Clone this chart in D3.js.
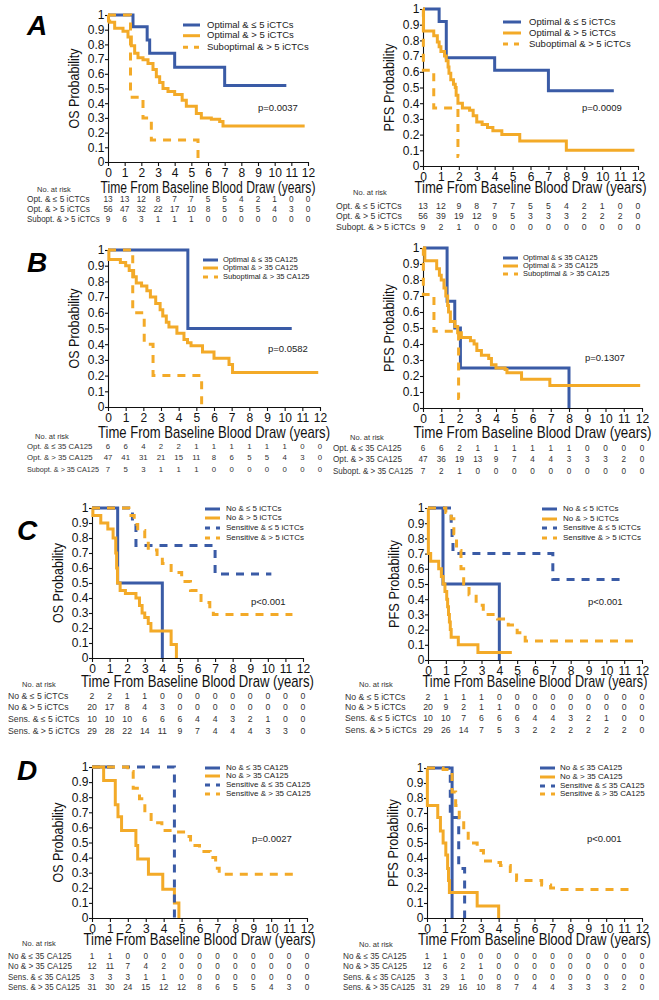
<!DOCTYPE html>
<html><head><meta charset="utf-8">
<script src="https://cdn.jsdelivr.net/npm/d3@7"></script>
<style>body{margin:0;background:#fff}svg{display:block}text{font-family:"Liberation Sans",Arial,Helvetica,sans-serif}</style>
</head><body><svg id="c" width="659" height="1000"></svg>
<script>
// ---------- DATA ----------
const xTickValues = [0,1,2,3,4,5,6,7,8,9,10,11,12];
const xTickLabels = ["0","1","2","3","4","5","6","7","8","9","10","11","12"];
const yTickValues = [0,0.1,0.2,0.3,0.4,0.5,0.6,0.7,0.8,0.9,1];
const yTickLabels = ["0","0.1","0.2","0.3","0.4","0.5","0.6","0.7","0.8","0.9","1"];

// Kaplan-Meier step points [years, survival probability]
const aOS_optLe5 = [[0,1],[1.5,0.92],[2.35,0.83],[2.5,0.74],[4.0,0.645],[7.0,0.52],[10.7,0.52]];
const aOS_optGt5 = [[0,1],[0.03,0.96],[0.1,0.95],[0.4,0.91],[0.9,0.89],[1.2,0.85],[1.4,0.79],[1.6,0.74],[1.8,0.71],[2.1,0.695],[2.4,0.67],[2.7,0.63],[2.9,0.58],[3.1,0.54],[3.3,0.50],[3.6,0.48],[4.0,0.46],[4.45,0.42],[4.7,0.38],[5.3,0.33],[5.6,0.30],[6.2,0.29],[6.7,0.275],[6.9,0.245],[11.8,0.245]];
const aOS_subGt5 = [[0,1],[1.35,0.44],[2.1,0.30],[2.6,0.15],[5.4,0],[5.4,0]];

const aPFS_optLe5 = [[0,1],[0.9,0.92],[1.3,0.69],[4.0,0.61],[7.0,0.48],[10.65,0.48]];
const aPFS_optGt5 = [[0,1],[0.03,0.86],[0.6,0.83],[0.8,0.79],[0.9,0.76],[1.0,0.73],[1.2,0.70],[1.3,0.67],[1.4,0.63],[1.45,0.59],[1.55,0.55],[1.7,0.52],[1.8,0.50],[1.85,0.45],[1.95,0.40],[2.2,0.37],[2.6,0.355],[2.8,0.32],[3.0,0.28],[3.3,0.265],[3.6,0.245],[3.9,0.225],[4.4,0.20],[5.4,0.16],[8.0,0.10],[11.8,0.10]];
const aPFS_subGt5 = [[0,1],[0.02,0.61],[0.6,0.37],[1.95,0.06],[2.0,0.06]];

const bOS_optLe35 = [[0,1],[4.52,0.5],[10.4,0.5]];
const bOS_optGt35 = [[0,1],[0.05,0.94],[0.7,0.92],[1.0,0.90],[1.2,0.87],[1.45,0.83],[1.6,0.79],[1.9,0.77],[2.2,0.74],[2.4,0.70],[2.7,0.66],[2.95,0.62],[3.1,0.58],[3.3,0.54],[3.45,0.51],[3.9,0.47],[4.3,0.43],[4.5,0.41],[4.7,0.39],[5.35,0.35],[6.0,0.31],[6.85,0.27],[7.05,0.22],[11.9,0.22]];
const bOS_subGt35 = [[0,1],[1.4,0.6],[2.05,0.4],[2.55,0.2],[5.3,0],[5.3,0]];

const bPFS_optLe35 = [[0,1],[1.32,0.667],[1.74,0.5],[2.05,0.25],[8.0,0],[8.0,0]];
const bPFS_optGt35 = [[0,1],[0.1,0.92],[0.75,0.87],[0.9,0.83],[1.0,0.80],[1.15,0.75],[1.25,0.70],[1.35,0.64],[1.4,0.60],[1.5,0.54],[1.75,0.51],[1.9,0.47],[2.1,0.44],[2.6,0.42],[2.8,0.40],[2.95,0.36],[3.2,0.33],[3.6,0.31],[3.75,0.27],[4.0,0.25],[4.5,0.24],[4.6,0.22],[5.4,0.18],[6.95,0.14],[11.9,0.14]];
const bPFS_subGt35 = [[0,1],[0.02,0.71],[0.6,0.48],[1.95,0.06],[2.0,0.06]];

const cOS_noLe5 = [[0,1],[1.46,0.5],[4.0,0],[4.0,0]];
const cOS_noGt5 = [[0,1],[0.05,0.95],[0.5,0.90],[0.9,0.86],[1.2,0.80],[1.35,0.70],[1.4,0.60],[1.45,0.50],[1.6,0.45],[1.9,0.43],[2.5,0.40],[2.7,0.35],[2.85,0.30],[3.0,0.27],[3.2,0.23],[3.35,0.18],[4.5,0.09],[4.8,0],[4.8,0]];
const cOS_senLe5 = [[0,1],[2.3,0.9],[2.5,0.75],[7.0,0.56],[10.2,0.56]];
const cOS_senGt5 = [[0,1],[2.1,0.95],[2.4,0.89],[2.6,0.85],[3.0,0.79],[3.2,0.72],[3.7,0.69],[4.0,0.63],[4.5,0.57],[5.1,0.51],[5.6,0.45],[6.2,0.37],[6.7,0.33],[6.9,0.29],[11.4,0.29]];

const cPFS_noLe5 = [[0,1],[0.84,0.5],[4.0,0],[4.0,0]];
const cPFS_noGt5 = [[0,1],[0.02,0.70],[0.15,0.65],[0.6,0.60],[0.75,0.55],[0.85,0.50],[0.95,0.45],[1.05,0.40],[1.1,0.35],[1.15,0.30],[1.2,0.25],[1.25,0.20],[1.3,0.15],[1.7,0.10],[2.8,0.05],[4.7,0.05]];
const cPFS_senLe5 = [[0,1],[1.3,0.90],[1.35,0.80],[1.4,0.70],[7.0,0.53],[10.8,0.53]];
const cPFS_senGt5 = [[0,1],[1.0,0.97],[1.3,0.93],[1.45,0.83],[1.6,0.72],[1.85,0.60],[2.0,0.50],[2.3,0.43],[2.7,0.36],[3.1,0.30],[3.9,0.27],[4.5,0.23],[5.0,0.18],[5.45,0.125],[11.8,0.125]];

const dOS_noLe35 = [[0,1],[1.2,1]];
const dOS_noGt35 = [[0,1],[0.65,0.91],[1.3,0.75],[1.45,0.67],[1.65,0.58],[2.45,0.48],[2.55,0.39],[3.15,0.29],[3.95,0.19],[4.6,0.10],[4.85,0],[4.85,0]];
const dOS_senLe35 = [[0,1],[4.6,0],[4.6,0]];
const dOS_senGt35 = [[0,1],[2.0,0.97],[2.3,0.86],[2.65,0.79],[2.95,0.70],[3.3,0.63],[3.9,0.58],[4.5,0.57],[5.25,0.54],[5.5,0.48],[6.0,0.44],[6.6,0.40],[6.9,0.33],[7.1,0.29],[11.35,0.29]];

const dPFS_noLe35 = [[0,1],[1.4,0],[1.4,0]];
const dPFS_noGt35 = [[0,1],[0.02,0.75],[0.6,0.67],[0.75,0.58],[0.9,0.50],[1.05,0.42],[1.15,0.33],[1.2,0.25],[1.25,0.17],[2.8,0.08],[4.0,0],[4.0,0]];
const dPFS_senLe35 = [[0,1],[1.3,0.67],[1.77,0.33],[2.1,0],[2.1,0]];
const dPFS_senGt35 = [[0,1],[0.9,0.99],[1.4,0.84],[1.6,0.75],[1.8,0.67],[2.05,0.58],[2.3,0.50],[2.8,0.45],[3.15,0.38],[3.8,0.37],[4.1,0.35],[4.65,0.31],[5.0,0.25],[6.4,0.22],[6.9,0.20],[7.4,0.19],[11.45,0.19]];

// Numbers at risk (years 0..12)
const riskA_OS = [[13,13,12,8,7,7,5,5,4,2,1,0,0],[56,47,32,22,17,10,8,5,5,5,4,3,0],[9,6,3,1,1,1,0,0,0,0,0,0,0]];
const riskA_PFS = [[13,12,9,8,7,7,5,5,4,2,1,0,0],[56,39,19,12,9,5,3,3,3,2,2,2,0],[9,2,1,0,0,0,0,0,0,0,0,0,0]];
const riskB_OS = [[6,6,4,2,2,1,1,1,1,1,1,0,0],[47,41,31,21,15,11,8,6,5,5,4,3,0],[7,5,3,1,1,1,0,0,0,0,0,0,0]];
const riskB_PFS = [[6,6,2,1,1,1,1,1,1,0,0,0,0],[47,36,19,13,9,7,4,4,3,3,3,2,0],[7,2,1,0,0,0,0,0,0,0,0,0,0]];
const riskC_OS = [[2,2,1,1,0,0,0,0,0,0,0,0,0],[20,17,8,4,3,0,0,0,0,0,0,0,0],[10,10,10,6,6,6,4,4,3,2,1,0,0],[29,28,22,14,11,9,7,4,4,4,3,3,0]];
const riskC_PFS = [[2,1,1,1,0,0,0,0,0,0,0,0,0],[20,9,2,1,1,0,0,0,0,0,0,0,0],[10,10,7,6,6,6,4,4,3,2,1,0,0],[29,26,14,7,5,3,2,2,2,2,2,2,0]];
const riskD_OS = [[1,1,0,0,0,0,0,0,0,0,0,0,0],[12,11,7,4,2,0,0,0,0,0,0,0,0],[3,3,3,1,1,0,0,0,0,0,0,0,0],[31,30,24,15,12,12,8,6,5,5,4,3,0]];
const riskD_PFS = [[1,1,0,0,0,0,0,0,0,0,0,0,0],[12,6,2,1,0,0,0,0,0,0,0,0,0],[3,3,1,0,0,0,0,0,0,0,0,0,0],[31,29,16,10,8,7,4,4,3,3,3,2,0]];

const legendA = ["Optimal & \u2264 5 iCTCs","Optimal & > 5 iCTCs","Suboptimal & > 5 iCTCs"];
const legendB = ["Optimal & \u2264 35 CA125","Optimal & > 35 CA125","Suboptimal & > 35 CA125"];
const legendC = ["No & \u2264 5 iCTCs","No & > 5 iCTCs","Sensitive & \u2264 5 iCTCs","Sensitive & > 5 iCTCs"];
const legendD = ["No & \u2264 35 CA125","No & > 35 CA125","Sensitive & \u2264 35 CA125","Sensitive & > 35 CA125"];
const rowsA = ["Opt. & \u2264 5 iCTCs","Opt. & > 5 iCTCs","Subopt. & > 5 iCTCs"];
const rowsB = ["Opt. & \u2264 35 CA125","Opt. & > 35 CA125","Subopt. & > 35 CA125"];
const rowsC = ["No & \u2264 5 iCTCs","No & > 5 iCTCs","Sens. & \u2264 5 iCTCs","Sens. & > 5 iCTCs"];
const rowsD = ["No & \u2264 35 CA125","No & > 35 CA125","Sens. & \u2264 35 CA125","Sens. & > 35 CA125"];
const pValues = ["p=0.0037","p=0.0009","p=0.0582","p=0.1307","p<0.001","p<0.001","p=0.0027","p<0.001"];

// ---------- STYLE / LAYOUT ----------
const BLUE = "#3a5ba6", ORANGE = "#f3aa28";
const st3 = [{c:BLUE,d:false},{c:ORANGE,d:false},{c:ORANGE,d:true}];
const st4 = [{c:BLUE,d:false},{c:ORANGE,d:false},{c:BLUE,d:true},{c:ORANGE,d:true}];

const panels = [
 {letter:"A",lx:27,ly:35,x0:108,x1:308,yT:15,yB:162,ylab:"OS Probability",xlY:193,xlW:215,
  series:[aOS_optLe5,aOS_optGt5,aOS_subGt5],st:st3,leg:legendA,lgX:183,lgL:17,lgT:207,lgY:[25,35.7,47.3],lgF:9.5,
  p:pValues[0],px:258,py:108,rows:rowsA,risk:riskA_OS,nrX:54,nrY:190,rlX:27,rlW:73,rlF:8.3,rY:[200,210,220]},
 {x0:423,x1:638,yT:9,yB:166,ylab:"PFS Probability",xlY:193,xlW:232,
  series:[aPFS_optLe5,aPFS_optGt5,aPFS_subGt5],st:st3,leg:legendA,lgX:503,lgL:18,lgT:529,lgY:[22,33,44],lgF:9.5,
  p:pValues[1],px:582,py:108,rows:rowsA,risk:riskA_PFS,nrX:370,nrY:193,rlX:336,rlW:80,rlF:8.7,rY:[207,217,228]},
 {letter:"B",lx:27,ly:272,x0:108,x1:320,yT:250,yB:407,ylab:"OS Probability",xlY:438,xlW:232,
  series:[bOS_optLe35,bOS_optGt35,bOS_subGt35],st:st3,leg:legendB,lgX:203,lgL:15,lgT:223,lgY:[260,268,277],lgF:7.5,
  p:pValues[2],px:268,py:349,rows:rowsB,risk:riskB_OS,nrX:52,nrY:437,rlX:27,rlW:72,rlF:7.8,rY:[447,458,470]},
 {x0:423,x1:642,yT:248,yB:408,ylab:"PFS Probability",xlY:438,xlW:238,
  series:[bPFS_optLe35,bPFS_optGt35,bPFS_subGt35],st:st3,leg:legendB,lgX:503,lgL:15,lgT:523,lgY:[258,266,274],lgF:7.5,
  p:pValues[3],px:585,py:358,rows:rowsB,risk:riskB_PFS,nrX:367,nrY:438,rlX:333,rlW:80,rlF:8.2,rY:[449,460,472]},
 {letter:"C",lx:17,ly:540,x0:92,x1:303,yT:508,yB:658,ylab:"OS Probability",xlY:687,xlW:233,
  series:[cOS_noLe5,cOS_noGt5,cOS_senLe5,cOS_senGt5],st:st4,leg:legendC,lgX:205,lgL:15,lgT:226,lgY:[509,518,528,538],lgF:8,
  p:pValues[4],px:251,py:602,rows:rowsC,risk:riskC_OS,nrX:39,nrY:685,rlX:8,rlW:72,rlF:8.7,rY:[697,708,720,732]},
 {x0:428,x1:642,yT:508,yB:660,ylab:"PFS Probability",xlY:687,xlW:225,
  series:[cPFS_noLe5,cPFS_noGt5,cPFS_senLe5,cPFS_senGt5],st:st4,leg:legendC,lgX:542,lgL:15,lgT:563,lgY:[509,519,528,538],lgF:8,
  p:pValues[5],px:588,py:602,rows:rowsC,risk:riskC_PFS,nrX:376,nrY:685,rlX:345,rlW:73,rlF:8.7,rY:[698,708,719,731]},
 {letter:"D",lx:17,ly:780,x0:92,x1:307,yT:767,yB:918,ylab:"OS Probability",xlY:945,xlW:232,
  series:[dOS_noLe35,dOS_noGt35,dOS_senLe35,dOS_senGt35],st:st4,leg:legendD,lgX:205,lgL:15,lgT:226,lgY:[768,776,785,794],lgF:8,
  p:pValues[6],px:252,py:839,rows:rowsD,risk:riskD_OS,nrX:39,nrY:944,rlX:8,rlW:72,rlF:8.2,rY:[957,967,978,988]},
 {x0:427,x1:642,yT:768,yB:918,ylab:"PFS Probability",xlY:945,xlW:233,
  series:[dPFS_noLe35,dPFS_noGt35,dPFS_senLe35,dPFS_senGt35],st:st4,leg:legendD,lgX:540,lgL:15,lgT:560,lgY:[768,777,786,794],lgF:8,
  p:pValues[7],px:587,py:839,rows:rowsD,risk:riskD_PFS,nrX:376,nrY:945,rlX:343,rlW:72,rlF:8.2,rY:[957,967,978,988]}
];

const svg = d3.select("#c");
svg.append("rect").attr("width",659).attr("height",1000).attr("fill","#fff");
const FONT = '"Liberation Sans",Arial,Helvetica,sans-serif';

// squeeze a text horizontally (along its direction) to a target width using a transform
function fitText(sel, tx, ty, rot, target, maxScale){
  const w = sel.node().getComputedTextLength();
  const s = Math.min(maxScale, target / w);
  sel.attr("transform", `translate(${tx},${ty})${rot?` rotate(${rot})`:""} scale(${s},1)`);
}

panels.forEach(p => {
  const x = d3.scaleLinear().domain([0,12]).range([p.x0,p.x1]);
  const y = d3.scaleLinear().domain([0,1]).range([p.yB,p.yT]);
  const g = svg.append("g");

  // axes
  const gx = g.append("g").attr("transform",`translate(0,${p.yB})`)
    .call(d3.axisBottom(x).tickValues(xTickValues).tickFormat((d,i)=>xTickLabels[i]).tickSize(4).tickPadding(2.5).tickSizeOuter(0));
  const gy = g.append("g").attr("transform",`translate(${p.x0},0)`)
    .call(d3.axisLeft(y).tickValues(yTickValues).tickFormat((d,i)=>yTickLabels[i]).tickSize(3).tickPadding(0.5).tickSizeOuter(0));
  [gx,gy].forEach(a=>{a.attr("font-size",12).attr("font-family",FONT);
    a.selectAll("path,line").attr("stroke","#111").attr("stroke-width",1.1);
    a.selectAll("text").attr("fill","#111");});

  // curves
  const line = d3.line().x(d=>x(d[0])).y(d=>y(d[1])).curve(d3.curveStepAfter);
  p.series.forEach((s,i)=>{
    g.append("path").attr("d",line(s)).attr("fill","none")
      .attr("stroke",p.st[i].c).attr("stroke-width",3)
      .attr("stroke-linejoin","miter")
      .attr("stroke-dasharray",p.st[i].d?"8,7":null);
  });

  // axis titles
  const yl = g.append("text").attr("text-anchor","middle").attr("dominant-baseline","middle")
    .attr("font-size",14).attr("fill","#111").text(p.ylab);
  fitText(yl, p.x0-33, (p.yT+p.yB)/2, -90, (p.ylab.startsWith("OS")?80:88), 1);
  const xl = g.append("text").attr("text-anchor","middle").attr("font-size",16).attr("fill","#111")
    .text("Time From Baseline Blood Draw (years)");
  fitText(xl, (p.x0+p.x1)/2, p.xlY, 0, p.xlW, 1);
  if(p.letter){
    g.append("text").attr("x",p.lx).attr("y",p.ly).attr("font-size",28).attr("font-weight","bold")
      .attr("font-style","italic").attr("fill","#000").text(p.letter);
  }

  // legend
  p.leg.forEach((t,i)=>{
    g.append("line").attr("x1",p.lgX).attr("x2",p.lgX+p.lgL).attr("y1",p.lgY[i]).attr("y2",p.lgY[i])
      .attr("stroke",p.st[i].c).attr("stroke-width",3).attr("stroke-dasharray",p.st[i].d?"5,6":null);
    g.append("text").attr("x",p.lgT).attr("y",p.lgY[i]).attr("dominant-baseline","middle")
      .attr("font-size",p.lgF).attr("fill","#222").text(t);
  });

  // p value
  g.append("text").attr("x",p.px).attr("y",p.py).attr("dominant-baseline","middle")
    .attr("font-size",9.5).attr("fill","#222").text(p.p);

  // risk table
  g.append("text").attr("x",p.nrX).attr("y",p.nrY).attr("text-anchor","middle").attr("dominant-baseline","middle")
    .attr("font-size",7.5).attr("fill","#333").text("No. at risk");
  p.rows.forEach((r,i)=>{
    const t = g.append("text").attr("dominant-baseline","middle")
      .attr("font-size",p.rlF).attr("fill","#333").text(r);
    fitText(t, p.rlX, p.rY[i], 0, p.rlW, 1);
    p.risk[i].forEach((v,j)=>{
      g.append("text").attr("x",x(xTickValues[j])).attr("y",p.rY[i]).attr("text-anchor","middle")
        .attr("dominant-baseline","middle").attr("font-size",p.rlF).attr("fill","#333").text(v);
    });
  });
});
</script></body></html>
